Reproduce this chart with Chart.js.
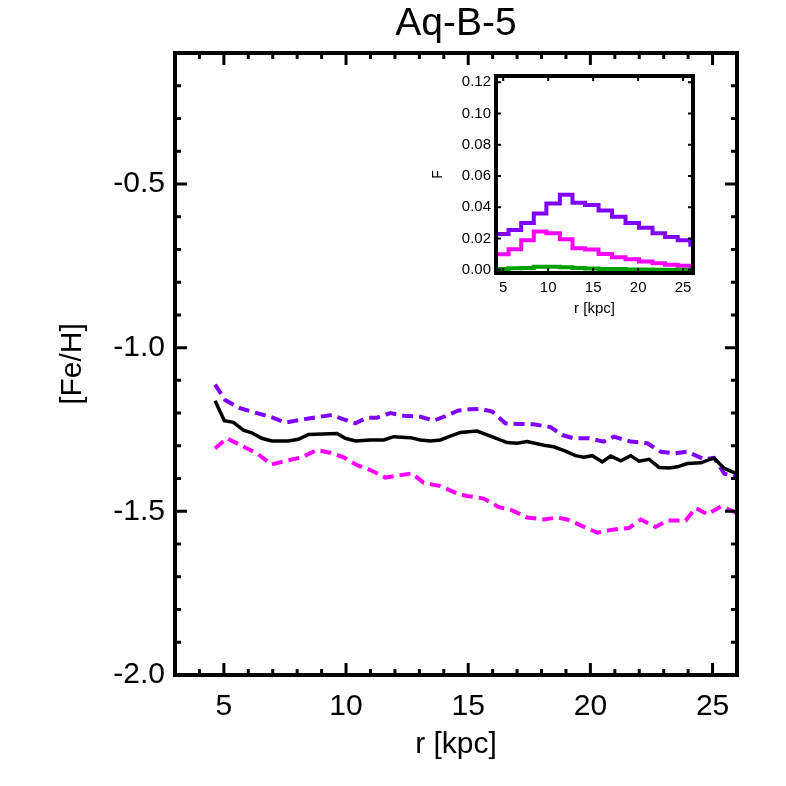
<!DOCTYPE html>
<html>
<head>
<meta charset="utf-8">
<title>Aq-B-5</title>
<script src="https://cdn.jsdelivr.net/npm/chart.js@4.4.1/dist/chart.umd.min.js"></script>
<style>
  html, body { margin: 0; padding: 0; background: #fff; }
  #wrap { position: relative; width: 786px; height: 786px; }
  #main { position: absolute; left: 0; top: 0; }
  #inset { position: absolute; left: 400px; top: 60px; }
</style>
</head>
<body>
<div id="wrap">
  <canvas id="main" width="786" height="786"></canvas>
  <canvas id="inset" width="310" height="265"></canvas>
</div>
<script>
// main panel: [Fe/H] radial profiles
const rBlack = [4.64, 5.02, 5.39, 5.80, 6.14, 6.55, 6.96, 7.64, 8.05, 8.46, 9.63, 9.97, 10.38, 11.0, 11.54, 11.95, 12.63, 13.04, 13.45, 13.86, 14.27, 14.68, 15.36, 15.91, 16.59, 17.0, 17.41, 18.1, 18.5, 18.98, 19.39, 19.73, 20.08, 20.49, 20.83, 21.24, 21.65, 21.99, 22.4, 22.81, 23.22, 23.56, 23.97, 24.52, 25.06, 25.48, 25.89, 26.0];
const feBlack = [-1.162, -1.223, -1.228, -1.252, -1.260, -1.277, -1.285, -1.285, -1.280, -1.265, -1.262, -1.277, -1.285, -1.282, -1.282, -1.272, -1.275, -1.282, -1.285, -1.282, -1.270, -1.259, -1.255, -1.270, -1.290, -1.292, -1.287, -1.298, -1.303, -1.316, -1.330, -1.335, -1.330, -1.349, -1.331, -1.346, -1.330, -1.347, -1.341, -1.366, -1.368, -1.364, -1.354, -1.352, -1.337, -1.369, -1.382, -1.385];

const rPurple = [4.64, 5.05, 5.66, 6.35, 6.89, 7.51, 8.12, 8.67, 9.42, 9.9, 10.38, 10.86, 11.27, 11.81, 12.36, 13.04, 13.59, 14.07, 14.61, 15.09, 15.5, 15.98, 16.52, 17.0, 17.68, 18.37, 18.85, 19.32, 19.94, 20.55, 20.96, 21.65, 22.33, 22.88, 23.43, 23.97, 24.66, 25.06, 25.48, 25.89, 26.0];
const fePurple = [-1.113, -1.160, -1.185, -1.200, -1.211, -1.229, -1.221, -1.214, -1.206, -1.219, -1.231, -1.214, -1.214, -1.200, -1.208, -1.211, -1.223, -1.209, -1.192, -1.188, -1.187, -1.195, -1.231, -1.233, -1.234, -1.243, -1.267, -1.277, -1.277, -1.287, -1.272, -1.287, -1.292, -1.318, -1.323, -1.318, -1.341, -1.337, -1.385, -1.392, -1.393];

const rMagenta = [4.64, 5.12, 5.87, 6.35, 6.96, 7.51, 8.19, 8.8, 9.35, 9.9, 10.45, 11.0, 11.61, 12.22, 12.7, 13.18, 13.86, 14.55, 14.95, 15.64, 16.25, 16.8, 17.41, 18.1, 18.64, 19.05, 19.67, 20.28, 20.9, 21.58, 22.06, 22.67, 23.15, 23.9, 24.3, 24.79, 25.34, 25.89, 26.0];
const feMagenta = [-1.308, -1.277, -1.305, -1.323, -1.357, -1.346, -1.335, -1.313, -1.321, -1.335, -1.359, -1.374, -1.397, -1.390, -1.384, -1.413, -1.423, -1.446, -1.453, -1.461, -1.487, -1.497, -1.519, -1.525, -1.519, -1.525, -1.545, -1.565, -1.556, -1.551, -1.525, -1.548, -1.528, -1.528, -1.490, -1.509, -1.485, -1.502, -1.505];

const xMajorTicks = [5, 10, 15, 20, 25];
const yMajorTicks = [-2.0, -1.5, -1.0, -0.5];

// inset: fraction F per radial bin
const binEdges = [4.2, 5.6, 7.0, 8.4, 9.8, 11.3, 12.7, 14.1, 15.6, 17.1, 18.6, 20.1, 21.6, 23.0, 24.4, 25.8, 26.1];
const fPurple = [0.023, 0.0255, 0.030, 0.036, 0.0425, 0.048, 0.043, 0.0415, 0.038, 0.034, 0.030, 0.027, 0.0234, 0.021, 0.019, 0.016];
const fMagenta = [0.010, 0.0132, 0.019, 0.0245, 0.0234, 0.0196, 0.0138, 0.013, 0.0102, 0.0081, 0.0068, 0.0053, 0.0043, 0.0032, 0.0026, 0.0022];
const fGreen = [0.0005, 0.001, 0.0012, 0.002, 0.002, 0.0017, 0.0012, 0.0008, 0.0006, 0.0005, 0.0003, 0.0002, 0.0001, 0.0001, 0.0, 0.0];

const insetXTicks = [5, 10, 15, 20, 25];
const insetYTicks = [0.00, 0.02, 0.04, 0.06, 0.08, 0.10, 0.12];

const FONT = "'Liberation Sans', Arial, Helvetica, sans-serif";
const PURPLE = '#8000ff';
const MAGENTA = '#ff00ff';
const GREEN = '#00a000';

function toPoints(xs, ys) {
    return xs.map((v, i) => ({ x: v, y: ys[i] }));
}

// step outline: rise from 0 at the first edge, each value held across its bin
function histPoints(edges, vals) {
    const pts = [{ x: edges[0], y: 0 }];
    vals.forEach((v, i) => pts.push({ x: edges[i], y: v }));
    pts.push({ x: edges[edges.length - 1], y: vals[vals.length - 1] });
    return pts;
}

function range(from, to, step) {
    const out = [];
    for (let v = from; v <= to + 1e-9; v += step) out.push(Math.round(v * 1000) / 1000);
    return out;
}

// box frame with inward ticks on all four sides
const framePlugin = {
    id: 'frame',
    afterDraw(chart, args, o) {
        const { ctx, chartArea: a, scales: { x, y } } = chart;
        ctx.save();
        ctx.strokeStyle = '#000';
        ctx.lineCap = 'butt';
        ctx.lineWidth = o.tickWidth;
        ctx.beginPath();
        const xt = (vals, len) => vals.forEach(v => {
            const px = x.getPixelForValue(v);
            ctx.moveTo(px, a.bottom); ctx.lineTo(px, a.bottom - len);
            ctx.moveTo(px, a.top); ctx.lineTo(px, a.top + len);
        });
        const yt = (vals, len) => vals.forEach(v => {
            const py = y.getPixelForValue(v);
            ctx.moveTo(a.left, py); ctx.lineTo(a.left + len, py);
            ctx.moveTo(a.right, py); ctx.lineTo(a.right - len, py);
        });
        xt(o.xMinor, o.minor); xt(o.xMajor, o.major);
        yt(o.yMinor, o.minor); yt(o.yMajor, o.major);
        ctx.stroke();
        ctx.lineWidth = o.width;
        ctx.strokeRect(a.left, a.top, a.right - a.left, a.bottom - a.top);
        if (o.title) {
            ctx.fillStyle = '#000';
            ctx.font = o.titleFont;
            ctx.textAlign = 'center';
            ctx.textBaseline = 'middle';
            ctx.fillText(o.title, (a.left + a.right) / 2, o.titleY);
        }
        ctx.restore();
    }
};

const mainChart = new Chart(document.getElementById('main'), {
    type: 'line',
    data: {
        datasets: [
            { data: toPoints(rBlack, feBlack), borderColor: '#000', borderWidth: 3.5 },
            { data: toPoints(rPurple, fePurple), borderColor: PURPLE, borderWidth: 4, borderDash: [11, 6] },
            { data: toPoints(rMagenta, feMagenta), borderColor: MAGENTA, borderWidth: 4, borderDash: [11, 6] }
        ]
    },
    options: {
        responsive: false,
        animation: false,
        layout: { padding: { top: 53, right: 49, left: 0, bottom: 0 } },
        elements: { point: { radius: 0 }, line: { tension: 0, borderCapStyle: 'butt' } },
        plugins: {
            legend: { display: false },
            tooltip: { enabled: false },
            frame: {
                width: 4, tickWidth: 3, major: 12, minor: 6,
                xMajor: xMajorTicks, xMinor: range(3, 26, 1).filter(v => v % 5 !== 0),
                yMajor: yMajorTicks, yMinor: range(-2.0, -0.1, 0.1).filter(v => Math.abs(v * 2 - Math.round(v * 2)) > 1e-6),
                title: 'Aq-B-5', titleFont: '39px ' + FONT, titleY: 24
            }
        },
        scales: {
            x: {
                type: 'linear', min: 3, max: 26,
                grid: { display: false, drawTicks: false },
                border: { display: false },
                afterBuildTicks: s => { s.ticks = xMajorTicks.map(v => ({ value: v })); },
                afterFit: s => { s.height = 111; },
                ticks: { color: '#000', font: { family: FONT, size: 30 }, padding: 14, maxRotation: 0, callback: v => String(v) },
                title: { display: true, text: 'r [kpc]', color: '#000', font: { family: FONT, size: 30 }, padding: { top: 0, bottom: 23 } }
            },
            y: {
                type: 'linear', min: -2.0, max: -0.1,
                grid: { display: false, drawTicks: false },
                border: { display: false },
                afterBuildTicks: s => { s.ticks = yMajorTicks.map(v => ({ value: v })); },
                afterFit: s => { s.width = 175; },
                ticks: { color: '#000', font: { family: FONT, size: 30 }, padding: 10, callback: v => v.toFixed(1) },
                title: { display: true, text: '[Fe/H]', color: '#000', font: { family: FONT, size: 30 }, padding: { top: 55, bottom: 0 } }
            }
        }
    },
    plugins: [framePlugin]
});

const insetChart = new Chart(document.getElementById('inset'), {
    type: 'line',
    data: {
        datasets: [
            { data: histPoints(binEdges, fGreen), borderColor: GREEN, borderWidth: 4, stepped: 'before' },
            { data: histPoints(binEdges, fMagenta), borderColor: MAGENTA, borderWidth: 4, stepped: 'before' },
            { data: histPoints(binEdges, fPurple), borderColor: PURPLE, borderWidth: 4, stepped: 'before' }
        ]
    },
    options: {
        responsive: false,
        animation: false,
        layout: { padding: { top: 16, right: 17, left: 0, bottom: 0 } },
        elements: { point: { radius: 0 }, line: { tension: 0, borderCapStyle: 'butt' } },
        plugins: {
            legend: { display: false },
            tooltip: { enabled: false },
            frame: {
                width: 4, tickWidth: 2, major: 5, minor: 0,
                xMajor: insetXTicks, xMinor: [], yMajor: insetYTicks, yMinor: []
            }
        },
        scales: {
            x: {
                type: 'linear', min: 4.2, max: 26.1,
                grid: { display: false, drawTicks: false },
                border: { display: false },
                afterBuildTicks: s => { s.ticks = insetXTicks.map(v => ({ value: v })); },
                afterFit: s => { s.height = 52; },
                ticks: { color: '#000', font: { family: FONT, size: 15 }, padding: 6, maxRotation: 0, callback: v => String(v) },
                title: { display: true, text: 'r [kpc]', color: '#000', font: { family: FONT, size: 15 }, padding: { top: 0, bottom: 7 } }
            },
            y: {
                type: 'linear', min: -0.002, max: 0.124,
                grid: { display: false, drawTicks: false },
                border: { display: false },
                afterBuildTicks: s => { s.ticks = insetYTicks.map(v => ({ value: v })); },
                afterFit: s => { s.width = 96; },
                ticks: { color: '#000', font: { family: FONT, size: 15 }, padding: 5, callback: v => v.toFixed(2) },
                title: { display: true, text: 'F', color: '#000', font: { family: FONT, size: 14 }, padding: { top: 30, bottom: 0 } }
            }
        }
    },
    plugins: [framePlugin]
});
</script>
</body>
</html>
